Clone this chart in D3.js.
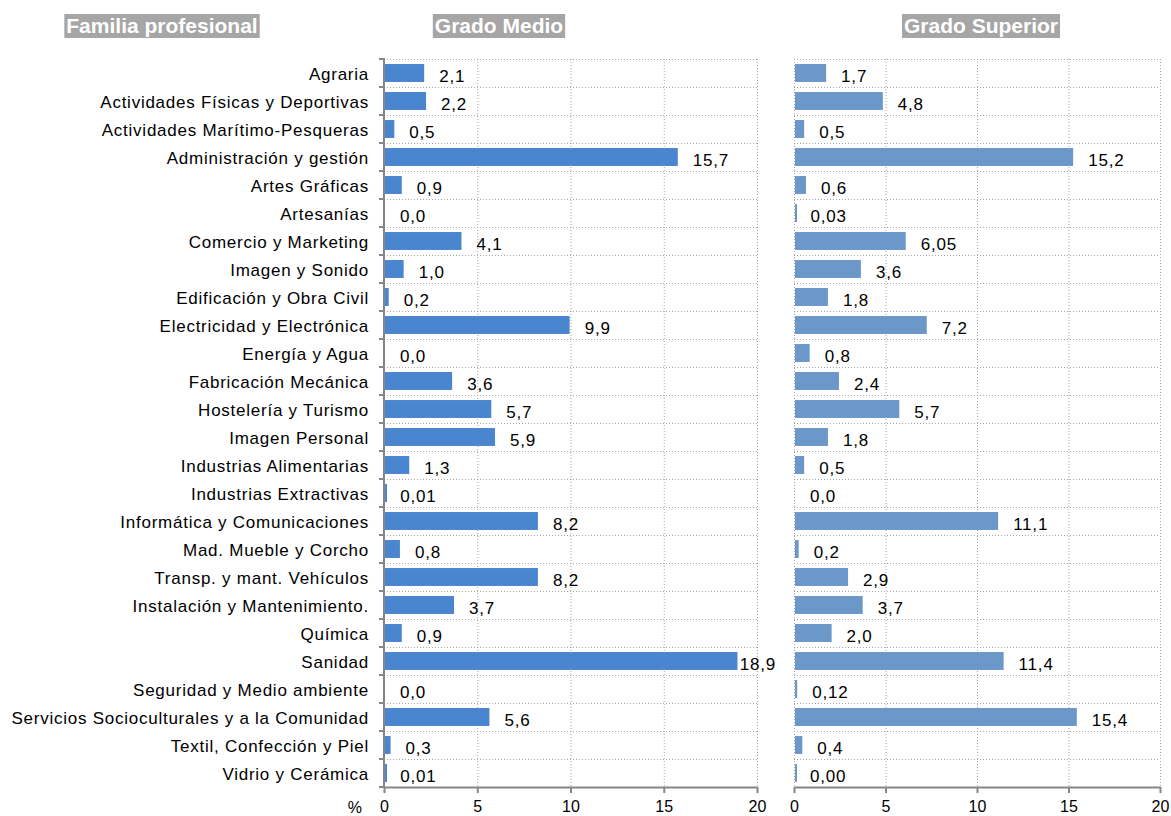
<!DOCTYPE html>
<html lang="es">
<head>
<meta charset="utf-8">
<script src="https://d3js.org/d3.v7.min.js"></script>
<style>
	body { margin: 0; background: #fff; }
	svg { font-family: 'Liberation Sans', Arial, sans-serif; }
	.cat { font-size: 17px; letter-spacing: 0.75px; fill: #000; }
	.val { font-size: 17px; letter-spacing: 0.8px; fill: #000; }
	.grid line { stroke: #a6a6a6; stroke-width: 1; stroke-dasharray: 1,2; }
	.axis path, .axis line { stroke: #868686; stroke-width: 2; }
	.axis text { font-size: 16px; fill: #000; }
	.head text { font-size: 21px; font-weight: bold; fill: #fff; }
</style>
</head>
<body>
<div id="chart"></div>
<script>

var width = 1171, height = 816;

// Familias profesionales (orden del gráfico)
var categories = [
	"Agraria",
	"Actividades Físicas y Deportivas",
	"Actividades Marítimo-Pesqueras",
	"Administración y gestión",
	"Artes Gráficas",
	"Artesanías",
	"Comercio y Marketing",
	"Imagen y Sonido",
	"Edificación y Obra Civil",
	"Electricidad y Electrónica",
	"Energía y Agua",
	"Fabricación Mecánica",
	"Hostelería y Turismo",
	"Imagen Personal",
	"Industrias Alimentarias",
	"Industrias Extractivas",
	"Informática y Comunicaciones",
	"Mad. Mueble y Corcho",
	"Transp. y mant. Vehículos",
	"Instalación y Mantenimiento.",
	"Química",
	"Sanidad",
	"Seguridad y Medio ambiente",
	"Servicios Socioculturales y a la Comunidad",
	"Textil, Confección y Piel",
	"Vidrio y Cerámica"
];

var medioValues = [2.1, 2.2, 0.5, 15.7, 0.9, 0.0, 4.1, 1.0, 0.2, 9.9, 0.0, 3.6, 5.7, 5.9, 1.3, 0.01, 8.2, 0.8, 8.2, 3.7, 0.9, 18.9, 0.0, 5.6, 0.3, 0.01];
var medioLabels = ["2,1", "2,2", "0,5", "15,7", "0,9", "0,0", "4,1", "1,0", "0,2", "9,9", "0,0", "3,6", "5,7", "5,9", "1,3", "0,01", "8,2", "0,8", "8,2", "3,7", "0,9", "18,9", "0,0", "5,6", "0,3", "0,01"];

var superiorValues = [1.7, 4.8, 0.5, 15.2, 0.6, 0.03, 6.05, 3.6, 1.8, 7.2, 0.8, 2.4, 5.7, 1.8, 0.5, 0.0, 11.1, 0.2, 2.9, 3.7, 2.0, 11.4, 0.12, 15.4, 0.4, 0.004];
var superiorLabels = ["1,7", "4,8", "0,5", "15,2", "0,6", "0,03", "6,05", "3,6", "1,8", "7,2", "0,8", "2,4", "5,7", "1,8", "0,5", "0,0", "11,1", "0,2", "2,9", "3,7", "2,0", "11,4", "0,12", "15,4", "0,4", "0,00"];

var xTicks = [0, 5, 10, 15, 20];

var svg = d3.select("#chart").append("svg")
	.attr("width", width)
	.attr("height", height);

var y = d3.scaleBand()
	.domain(categories)
	.range([59, 787])
	.paddingInner(0.36)
	.paddingOuter(0.18);

var gap = (y.step() - y.bandwidth()) / 2;
var bounds = categories.map(function(c) { return y(c) - gap; }).concat([y.range()[1]]);

var xMedio = d3.scaleLinear().domain([0, 20]).range([384, 757]);
var xSup = d3.scaleLinear().domain([0, 20]).range([794, 1160]);

// one panel of bars
function panel(x, values, labels, color, leftAxis) {
	var g = svg.append("g");
	var x0 = x.range()[0], x1 = x.range()[1];
	var top = y.range()[0], bottom = y.range()[1];

	var grid = g.append("g").attr("class", "grid");
	grid.selectAll(".h").data(bounds.slice(0, -1)).enter().append("line")
		.attr("x1", x0).attr("x2", x1)
		.attr("y1", function(d) { return d + 0.5; })
		.attr("y2", function(d) { return d + 0.5; });
	grid.selectAll(".v").data(leftAxis ? xTicks.slice(1) : xTicks).enter().append("line")
		.attr("x1", function(d) { return x(d) + 0.5; })
		.attr("x2", function(d) { return x(d) + 0.5; })
		.attr("y1", top).attr("y2", bottom);

	g.selectAll(".bar").data(values).enter().append("rect")
		.attr("x", x0 + 1)
		.attr("y", function(d, i) { return y(categories[i]); })
		.attr("height", y.bandwidth())
		.attr("width", function(d) { return d > 0 ? Math.max(2, x(d) - x0) : 0; })
		.attr("fill", color);

	// labels sit past the bar end, pulled back when they would run off the chart
	g.selectAll(".val").data(labels).enter().append("text")
		.attr("class", "val")
		.attr("y", function(d, i) { return y(categories[i]) + y.bandwidth() / 2 + 8.5; })
		.text(function(d) { return d; })
		.attr("x", function(d, i) {
			var w = this.getComputedTextLength();
			return Math.min(x(values[i]) + 16, x1 + 19 - w);
		});

	g.append("g").attr("class", "axis")
		.attr("transform", "translate(0," + bottom + ")")
		.call(d3.axisBottom(x).tickValues(xTicks).tickSizeInner(6).tickSizeOuter(0).tickPadding(8));

	if (leftAxis) {
		var la = g.append("g").attr("class", "axis");
		la.append("line").attr("x1", x0).attr("x2", x0).attr("y1", top - 1).attr("y2", bottom);
		la.selectAll(".t").data(bounds).enter().append("line")
			.attr("x1", x0 - 5).attr("x2", x0)
			.attr("y1", function(d) { return d; })
			.attr("y2", function(d) { return d; });
	}
	return g;
}

panel(xMedio, medioValues, medioLabels, "#4a85d0", true);
panel(xSup, superiorValues, superiorLabels, "#6b97c9", false);

// category labels
svg.append("g").selectAll("text").data(categories).enter().append("text")
	.attr("class", "cat")
	.attr("x", 369)
	.attr("y", function(d) { return y(d) + y.bandwidth() / 2 + 7; })
	.attr("text-anchor", "end")
	.text(function(d) { return d; });

svg.append("text")
	.attr("x", 362).attr("y", 813)
	.attr("text-anchor", "end")
	.style("font-size", "16px")
	.text("%");

// header boxes
var heads = [
	{ text: "Familia profesional", cx: 162 },
	{ text: "Grado Medio", cx: 499 },
	{ text: "Grado Superior", cx: 981 }
];
var hg = svg.append("g").attr("class", "head");
heads.forEach(function(h) {
	var r = hg.append("rect").attr("fill", "#a6a6a6");
	var t = hg.append("text")
		.attr("x", h.cx).attr("y", 33)
		.attr("text-anchor", "middle")
		.text(h.text);
	var w = t.node().getComputedTextLength();
	r.attr("x", h.cx - w / 2 - 2).attr("y", 14)
		.attr("width", w + 4).attr("height", 24);
});

</script>
</body>
</html>
